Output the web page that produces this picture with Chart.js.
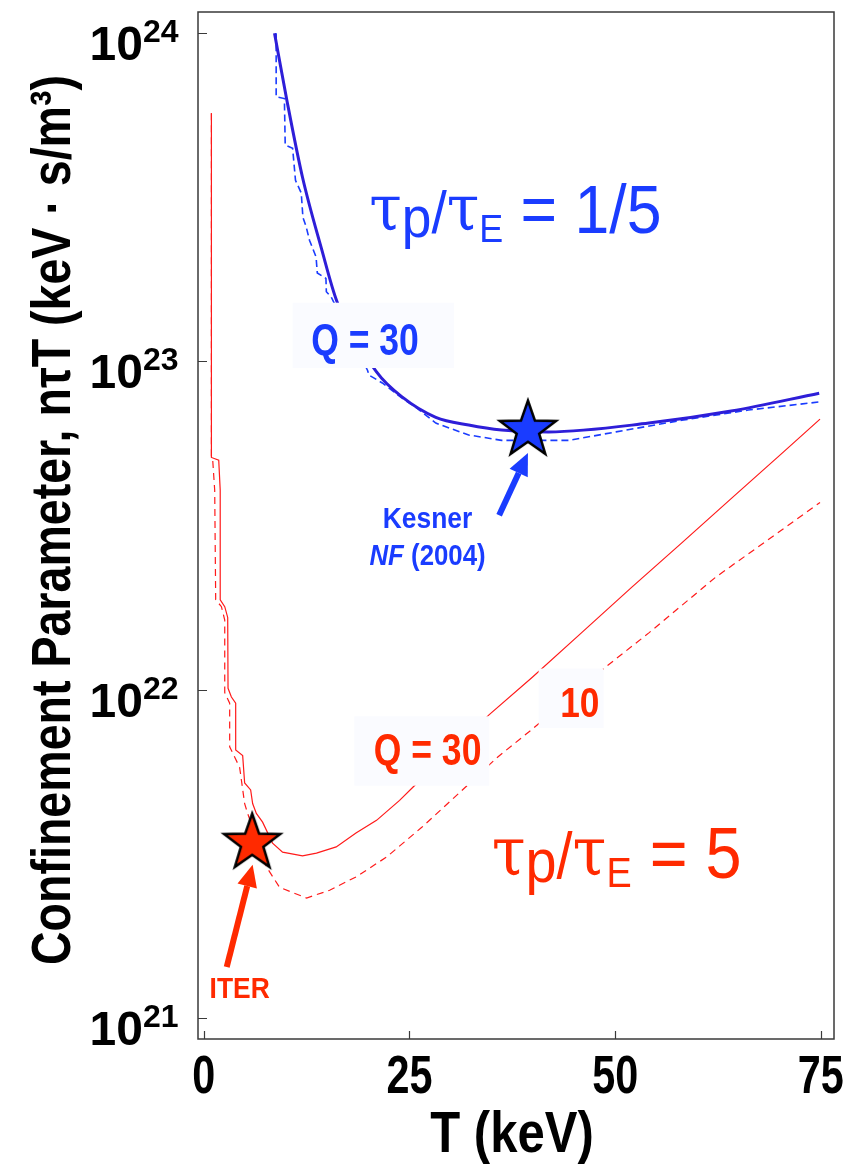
<!DOCTYPE html>
<html>
<head>
<meta charset="utf-8">
<script src="https://cdn.jsdelivr.net/npm/chart.js@4.4.1/dist/chart.umd.min.js"></script>
<style>
  html, body { margin: 0; padding: 0; background: #fff; }
  #wrap { width: 867px; height: 1165px; }
</style>
</head>
<body>
<div id="wrap"><canvas id="chart"></canvas></div>
<script>
// axis ticks
const xTicks = [0, 25, 50, 75]
const yTicks = [1e21, 1e22, 1e23, 1e24]
const xTitle = 'T (keV)'
const yTitle = 'Confinement Parameter, nτT (keV · s/m³)'

// tau_p/tau_E = 1/5 (blue)
const blueSolidT = [8.6, 10.1, 12.0, 14.3, 16.2, 21.0, 24.1, 28.2, 32.2, 36.2, 41.9, 54.1, 64.1, 74.8]
const blueSolidNT = [1.0e24, 6.25e23, 3.64e23, 2.21e23, 1.52e23, 9.3e22, 7.8e22, 6.76e22, 6.4e22, 6.18e22, 6.1e22, 6.49e22, 7.06e22, 8.0e22]
const blueDashT = [8.8, 8.8, 9.8, 9.9, 10.8, 11.15, 11.85, 12.05, 12.45, 12.85, 13.65, 13.8, 14.85, 14.9, 15.5, 19.9, 20.1, 21.7, 24.1, 25.9, 28.2, 32.2, 36.2, 40.4, 44.4, 50.1, 58.1, 66.2, 74.7]
const blueDashNT = [1.0e24, 6.4e23, 6.32e23, 4.56e23, 4.46e23, 3.56e23, 3.26e23, 2.75e23, 2.57e23, 2.34e23, 2.08e23, 1.86e23, 1.79e23, 1.63e23, 1.57e23, 9.4e22, 9.08e22, 8.6e22, 7.73e22, 7.21e22, 6.49e22, 5.97e22, 5.75e22, 5.75e22, 5.75e22, 6.1e22, 6.62e22, 7.11e22, 7.52e22]

// tau_p/tau_E = 5 (red)
const redSolidT = [0.93, 0.93, 1.82, 2.0, 2.0, 2.55, 2.91, 2.95, 3.36, 3.88, 3.88, 4.73, 4.97, 5.7, 5.94, 6.39, 7.15, 8.36, 9.58, 12.0, 13.7, 16.1, 18.5, 21.0, 23.8, 25.6, 34.7, 39.9, 45.9, 52.0, 58.1, 64.1, 70.2, 74.9]
const redSolidNT = [5.7e23, 5.1e22, 5.0e22, 4.05e22, 1.88e22, 1.79e22, 1.66e22, 1.01e22, 9.5e21, 9.1e21, 6.55e21, 6.3e21, 5.2e21, 4.95e21, 4.5e21, 4.2e21, 3.95e21, 3.41e21, 3.2e21, 3.12e21, 3.18e21, 3.32e21, 3.66e21, 4.0e21, 4.6e21, 5.1e21, 8.4e21, 1.09e22, 1.49e22, 2.05e22, 2.8e22, 3.82e22, 5.23e22, 6.67e22]
const redDashT = [0.93, 0.93, 1.09, 1.33, 1.45, 2.15, 2.55, 2.55, 3.15, 3.15, 4.36, 4.97, 5.33, 7.64, 9.21, 12.5, 15.3, 18.5, 22.2, 26.5, 31.4, 35.6, 39.8, 48.8, 54.1, 62.2, 70.2, 74.9]
const redDashNT = [5.7e23, 5.1e22, 5.0e22, 4.05e22, 1.88e22, 1.79e22, 1.63e22, 9.8e21, 9.1e21, 6.7e21, 5.8e21, 4.5e21, 4.2e21, 2.88e21, 2.5e21, 2.32e21, 2.45e21, 2.69e21, 3.09e21, 3.81e21, 4.94e21, 6.2e21, 7.54e21, 1.17e22, 1.49e22, 2.2e22, 3.06e22, 3.72e22]

// marked machines
const kesnerPoint = { x: 39.4, y: 6.18e22 }
const iterPoint = { x: 5.88, y: 3.41e21 }

const BLUE = '#1a3cff'
const RED = '#ff2a00'
const SANS = '"Liberation Sans", Arial, sans-serif'
const SERIF = '"DejaVu Serif", "Liberation Serif", serif'

function pairs(xs, ys) {
    return xs.map((x, i) => ({ x: x, y: ys[i] }))
}

function makeStar(fill) {
    const c = document.createElement('canvas')
    c.width = 70
    c.height = 70
    const g = c.getContext('2d')
    const R = 29.5, r = R * 0.4
    g.beginPath()
    for (let i = 0; i < 10; i++) {
        const a = -Math.PI / 2 + i * Math.PI / 5
        const rad = i % 2 === 0 ? R : r
        const px = 35 + rad * Math.cos(a), py = 35 + rad * Math.sin(a)
        if (i === 0) g.moveTo(px, py)
        else g.lineTo(px, py)
    }
    g.closePath()
    g.fillStyle = fill
    g.fill()
    g.lineWidth = 2.5
    g.strokeStyle = '#000'
    g.stroke()
    return c
}

// boxes that hide curves behind the labels (data coords)
const labelBoxes = [
    { t0: 10.8, t1: 30.4, v0: 1.51e23, v1: 9.55e22 },
    { t0: 18.3, t1: 34.7, v0: 8.3e21, v1: 5.1e21 },
    { t0: 40.7, t1: 48.6, v0: 1.16e22, v1: 7.64e21 }
]

const arrows = [
    { from: { x: 35.9, y: 3.4e22 }, to: { x: 39.4, y: 5.26e22 }, color: BLUE },
    { from: { x: 2.79, y: 1.43e21 }, to: { x: 5.94, y: 2.93e21 }, color: RED }
]

function runsWidth(ctx, runs) {
    let w = 0
    runs.forEach(r => { ctx.font = r.font; w += ctx.measureText(r.t).width })
    return w
}

// draws text runs horizontally squeezed by sx (the original uses condensed faces)
function drawRuns(ctx, x, y, runs, color, align, sx) {
    sx = sx || 1
    ctx.save()
    ctx.fillStyle = color
    ctx.textAlign = 'left'
    ctx.textBaseline = 'alphabetic'
    const w = runsWidth(ctx, runs) * sx
    if (align === 'center') x -= w / 2
    else if (align === 'right') x -= w
    ctx.translate(x, y)
    ctx.scale(sx, 1)
    let cx = 0
    runs.forEach(r => {
        ctx.font = r.font
        ctx.fillText(r.t, cx, r.dy || 0)
        cx += ctx.measureText(r.t).width
    })
    ctx.restore()
}

function tauRuns(size, tail) {
    return [
        { t: 'τ', font: (size - 4) + 'px ' + SERIF, dy: -3 },
        { t: 'p', font: (size - 10) + 'px ' + SANS, dy: 4 },
        { t: '/', font: (size - 8) + 'px ' + SANS },
        { t: 'τ', font: (size - 4) + 'px ' + SERIF, dy: -3 },
        { t: 'E', font: Math.round(size * 0.58) + 'px ' + SANS, dy: 9 },
        { t: tail, font: size + 'px ' + SANS }
    ]
}

const textLabels = [
    { at: { x: 20.1, y: 2.46e23 }, runs: tauRuns(68, ' = 1/5'), color: BLUE, align: 'left', sx: 0.92 },
    { at: { x: 35.0, y: 2.67e21 }, runs: tauRuns(72, ' = 5'), color: RED, align: 'left', sx: 0.9 },
    { at: { x: 19.6, y: 1.045e23 }, runs: [{ t: 'Q = 30', font: 'bold 45px ' + SANS }], color: BLUE, align: 'center', sx: 0.79 },
    { at: { x: 27.2, y: 5.89e21 }, runs: [{ t: 'Q = 30', font: 'bold 45px ' + SANS }], color: RED, align: 'center', sx: 0.79 },
    { at: { x: 45.7, y: 8.26e21 }, runs: [{ t: '10', font: 'bold 43px ' + SANS }], color: RED, align: 'center', sx: 0.82 },
    { at: { x: 27.2, y: 3.1e22 }, runs: [{ t: 'Kesner', font: 'bold 30px ' + SANS }], color: BLUE, align: 'center', sx: 0.88 },
    { at: { x: 27.2, y: 2.4e22 }, runs: [{ t: 'NF', font: 'italic bold 30px ' + SANS }, { t: ' (2004)', font: 'bold 30px ' + SANS }], color: BLUE, align: 'center', sx: 0.86 },
    { at: { x: 4.36, y: 1.15e21 }, runs: [{ t: 'ITER', font: 'bold 30px ' + SANS }], color: RED, align: 'center', sx: 0.88 }
]

const overlayPlugin = {
    id: 'overlay',
    afterDatasetsDraw(chart) {
        const { ctx, chartArea: area, scales: { x, y } } = chart
        ctx.save()

        // label backgrounds
        ctx.fillStyle = '#fafbff'
        labelBoxes.forEach(b => {
            const x0 = x.getPixelForValue(b.t0), x1 = x.getPixelForValue(b.t1)
            const y0 = y.getPixelForValue(b.v0), y1 = y.getPixelForValue(b.v1)
            ctx.fillRect(x0, y0, x1 - x0, y1 - y0)
        })

        // frame
        ctx.strokeStyle = '#3a3a3a'
        ctx.lineWidth = 1.5
        ctx.strokeRect(area.left, area.top, area.right - area.left, area.bottom - area.top)

        // inward tick marks
        ctx.lineWidth = 1.2
        ctx.beginPath()
        xTicks.forEach(v => {
            const px = Math.round(x.getPixelForValue(v)) + 0.5
            ctx.moveTo(px, area.bottom)
            ctx.lineTo(px, area.bottom - 8)
        })
        yTicks.forEach(v => {
            const py = Math.round(y.getPixelForValue(v)) + 0.5
            ctx.moveTo(area.left, py)
            ctx.lineTo(area.left + 9, py)
        })
        ctx.stroke()

        // y tick labels 10^n
        yTicks.forEach(v => {
            const py = y.getPixelForValue(v)
            drawRuns(ctx, 143, py + 27, [{ t: '10', font: 'bold 48px ' + SANS }], '#000', 'right')
            drawRuns(ctx, 143, py + 9, [{ t: String(Math.round(Math.log10(v))), font: 'bold 32px ' + SANS }], '#000', 'left')
        })

        // x tick labels
        xTicks.forEach(v => {
            drawRuns(ctx, x.getPixelForValue(v), 1093, [{ t: String(v), font: 'bold 53px ' + SANS }], '#000', 'center', 0.78)
        })

        // axis titles
        const xMid = (area.left + area.right) / 2 - 4
        drawRuns(ctx, xMid, 1152, [{ t: xTitle, font: 'bold 57px ' + SANS }], '#000', 'center', 0.86)
        ctx.save()
        ctx.translate(70, 520)
        ctx.rotate(-Math.PI / 2)
        ctx.font = 'bold 56px ' + SANS
        const yFit = 890 / ctx.measureText(yTitle).width
        drawRuns(ctx, 0, 0, [{ t: yTitle, font: 'bold 56px ' + SANS }], '#000', 'center', yFit)
        ctx.restore()

        // arrows
        arrows.forEach(a => {
            const x0 = x.getPixelForValue(a.from.x), y0 = y.getPixelForValue(a.from.y)
            const x1 = x.getPixelForValue(a.to.x), y1 = y.getPixelForValue(a.to.y)
            const ang = Math.atan2(y1 - y0, x1 - x0)
            const headL = 22, headW = 10
            const bx = x1 - headL * Math.cos(ang), by = y1 - headL * Math.sin(ang)
            ctx.strokeStyle = a.color
            ctx.fillStyle = a.color
            ctx.lineWidth = 6
            ctx.beginPath()
            ctx.moveTo(x0, y0)
            ctx.lineTo(bx, by)
            ctx.stroke()
            ctx.beginPath()
            ctx.moveTo(x1, y1)
            ctx.lineTo(bx + headW * Math.sin(ang), by - headW * Math.cos(ang))
            ctx.lineTo(bx - headW * Math.sin(ang), by + headW * Math.cos(ang))
            ctx.closePath()
            ctx.fill()
        })

        // text labels
        textLabels.forEach(l => {
            drawRuns(ctx, x.getPixelForValue(l.at.x), y.getPixelForValue(l.at.y), l.runs, l.color, l.align, l.sx)
        })
        ctx.restore()
    }
}

const starDataset = (pt, fill) => ({
    type: 'scatter',
    data: [pt],
    pointStyle: makeStar(fill),
    pointRadius: 30,
    showLine: false
})

const chart = new Chart(document.getElementById('chart').getContext('2d'), {
    type: 'line',
    data: {
        datasets: [
            starDataset(kesnerPoint, BLUE),
            starDataset(iterPoint, RED),
            { data: pairs(blueSolidT, blueSolidNT), borderColor: '#2e1ed8', borderWidth: 3, cubicInterpolationMode: 'monotone' },
            { data: pairs(blueDashT, blueDashNT), borderColor: BLUE, borderWidth: 1.6, borderDash: [7, 4] },
            { data: pairs(redSolidT, redSolidNT), borderColor: '#ff1a1a', borderWidth: 1.2 },
            { data: pairs(redDashT, redDashNT), borderColor: '#ff1a1a', borderWidth: 1.2, borderDash: [7, 5] }
        ]
    },
    options: {
        responsive: true,
        maintainAspectRatio: false,
        animation: false,
        devicePixelRatio: 1,
        elements: { point: { radius: 0 }, line: { tension: 0 } },
        layout: { autoPadding: false, padding: { top: 12, right: 33, left: 0, bottom: 0 } },
        plugins: { legend: { display: false }, tooltip: { enabled: false } },
        scales: {
            x: {
                type: 'linear',
                min: -0.7,
                max: 76.6,
                afterBuildTicks: s => { s.ticks = xTicks.map(v => ({ value: v })) },
                afterFit: s => { s.height = 126 },
                grid: { display: false, drawTicks: false },
                border: { display: false },
                ticks: { display: false },
                title: { display: false }
            },
            y: {
                type: 'logarithmic',
                min: 8.63e20,
                max: 1.16e24,
                afterBuildTicks: s => { s.ticks = yTicks.map(v => ({ value: v })) },
                afterFit: s => { s.width = 198 },
                grid: { display: false, drawTicks: false },
                border: { display: false },
                ticks: { display: false },
                title: { display: false }
            }
        }
    },
    plugins: [overlayPlugin]
})
</script>
</body>
</html>
